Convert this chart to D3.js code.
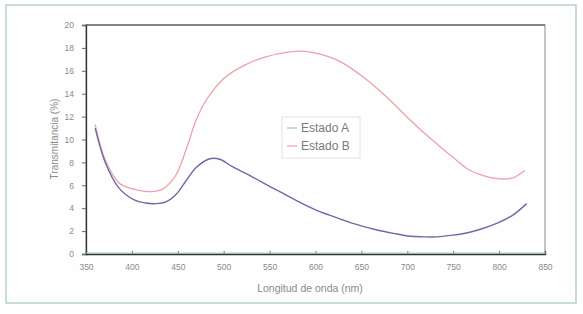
<!DOCTYPE html>
<html>
<head>
<meta charset="utf-8">
<script src="https://cdn.jsdelivr.net/npm/d3@7"></script>
<style>
  body { margin: 0; background: #fff; }
  text { font-family: "Liberation Sans", Arial, sans-serif; }
</style>
</head>
<body>
<svg id="chart" width="583" height="314"></svg>
<script>
// wavelength (nm) and transmittance (%)
const wlA = [360, 371, 386, 403, 415, 426, 437, 448, 459, 470, 484, 495, 510, 532, 550, 568, 583, 600, 615, 630, 648, 667, 685, 703, 718, 732, 750, 768, 783, 798, 815, 830];
const estadoA = [11.0, 8.0, 5.75, 4.7, 4.45, 4.4, 4.55, 5.2, 6.4, 7.55, 8.3, 8.3, 7.6, 6.7, 5.9, 5.15, 4.5, 3.85, 3.4, 2.97, 2.5, 2.1, 1.8, 1.55, 1.5, 1.5, 1.65, 1.9, 2.25, 2.7, 3.4, 4.4];
const wlB = [360, 371, 386, 400, 412, 422, 430, 437, 448, 459, 470, 481, 501, 523, 545, 572, 589, 605, 627, 648, 665, 681, 700, 720, 739, 752, 765, 779, 790, 805, 815, 828];
const estadoB = [11.3, 8.2, 6.2, 5.7, 5.5, 5.45, 5.55, 5.85, 6.9, 9.1, 11.7, 13.45, 15.4, 16.5, 17.2, 17.65, 17.7, 17.45, 16.8, 15.7, 14.6, 13.45, 11.95, 10.45, 9.15, 8.3, 7.45, 6.95, 6.7, 6.55, 6.65, 7.3];
const xTicks = [350, 400, 450, 500, 550, 600, 650, 700, 750, 800, 850];
const yTicks = [0, 2, 4, 6, 8, 10, 12, 14, 16, 18, 20];
const seriesNames = ["Estado A", "Estado B"];

const svg = d3.select("#chart");

// outer frame
svg.append("rect")
    .attr("x", 6).attr("y", 5).attr("width", 570).attr("height", 298)
    .attr("fill", "#fefefe").attr("stroke", "#b3d3cc").attr("stroke-width", 1.5);

const x = d3.scaleLinear().domain([350, 850]).range([86, 545]);
const y = d3.scaleLinear().domain([0, 20]).range([254, 25]);

// plot box
svg.append("rect")
    .attr("x", x(350)).attr("y", y(20))
    .attr("width", x(850) - x(350)).attr("height", y(0) - y(20))
    .attr("fill", "none").attr("stroke", "#8a8a8a").attr("stroke-width", 1);
svg.append("line")
    .attr("x1", x(350)).attr("x2", x(850)).attr("y1", y(20)).attr("y2", y(20))
    .attr("stroke", "#444").attr("stroke-width", 1.2);

const xAxis = svg.append("g")
    .attr("transform", "translate(0," + y(0) + ")")
    .call(d3.axisBottom(x).tickValues(xTicks).tickSize(-3).tickPadding(10));
const yAxis = svg.append("g")
    .attr("transform", "translate(" + x(350) + ",0)")
    .call(d3.axisLeft(y).tickValues(yTicks).tickSize(4).tickPadding(8));

[xAxis, yAxis].forEach(g => {
    g.select(".domain").attr("stroke", "#333").attr("stroke-width", 1.3);
    g.selectAll(".tick line").attr("stroke", "#666");
    g.selectAll("text").attr("fill", "#8a8a8a").attr("font-size", 8.5);
});

// faint zero-level trace
svg.append("line")
    .attr("x1", x(350)).attr("x2", x(850)).attr("y1", y(0) - 1).attr("y2", y(0) - 1)
    .attr("stroke", "#9fd6d6").attr("stroke-width", 1);

const line = d3.line().curve(d3.curveCatmullRom);

svg.append("path")
    .datum(wlB.map((d, i) => [x(d), y(estadoB[i])]))
    .attr("d", line)
    .attr("fill", "none").attr("stroke", "#eda0a8").attr("stroke-width", 1.3);

svg.append("path")
    .datum(wlA.map((d, i) => [x(d), y(estadoA[i])]))
    .attr("d", line)
    .attr("fill", "none").attr("stroke", "#6b6ba6").attr("stroke-width", 1.4);

// axis titles
svg.append("text")
    .attr("x", 310).attr("y", 292)
    .attr("text-anchor", "middle").attr("font-size", 10.5).attr("fill", "#8a8a8a")
    .text("Longitud de onda (nm)");
svg.append("text")
    .attr("transform", "translate(58,139) rotate(-90)")
    .attr("text-anchor", "middle").attr("font-size", 10).attr("fill", "#8a8a8a")
    .text("Transmitancia (%)");

// legend
const legend = svg.append("g");
legend.append("rect")
    .attr("x", 282).attr("y", 117).attr("width", 78).attr("height", 41)
    .attr("fill", "#fff").attr("stroke", "#e2e2e2");
const legendColors = ["#8fd0c0", "#eda0a8"];
seriesNames.forEach((name, i) => {
    const ly = 128 + i * 18;
    legend.append("line")
        .attr("x1", 287).attr("x2", 297).attr("y1", ly).attr("y2", ly)
        .attr("stroke", legendColors[i]).attr("stroke-width", 1.2);
    legend.append("text")
        .attr("x", 301).attr("y", ly + 4)
        .attr("font-size", 12).attr("fill", "#7a7a7a")
        .text(name);
});
</script>
</body>
</html>
